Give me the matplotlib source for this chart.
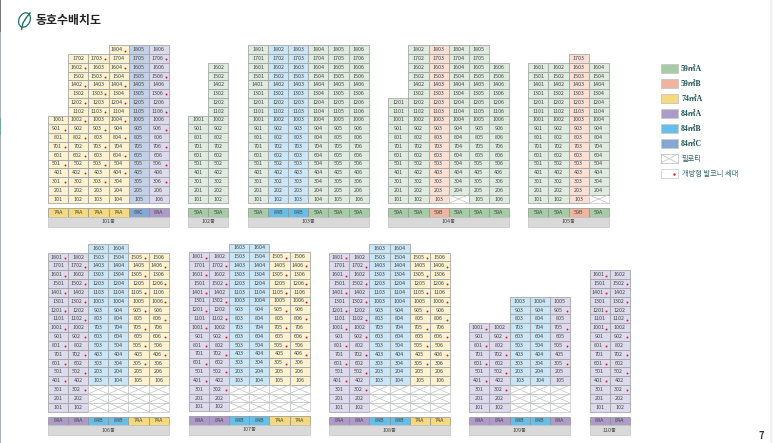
import matplotlib
matplotlib.use("Agg")
import matplotlib.pyplot as plt
from matplotlib.patches import Rectangle, Ellipse

plt.rcParams["font.family"] = ["Noto Sans CJK KR", "DejaVu Sans"]

# Unit plan colours: (cell, header)
type_colors = {
    "59A": ("#dfebdf", "#a5cca6"),
    "59B": ("#fadfd5", "#eeb49e"),
    "74A": ("#fcf2d0", "#f6d97c"),
    "84A": ("#dedaed", "#ae9ac9"),
    "84B": ("#c9e5f6", "#66bfe8"),
    "84C": ("#c3d1e8", "#85a7d6"),
}

# Each building: name, plan per column, rows per column, floor number offset per
# column, pilotis rows per column, units with an open balcony
names = ["101동", "102동", "103동", "104동", "105동", "106동", "107동", "108동", "109동", "110동"]

plans = [
    ["74A", "74A", "74A", "74A", "84C", "84A"],
    ["59A", "59A"],
    ["59A", "84B", "84B", "59A", "59A", "59A"],
    ["59A", "59A", "59B", "59A", "59A", "59A"],
    ["59A", "59A", "59B", "59A"],
    ["84A", "84A", "84B", "84B", "74A", "74A"],
    ["84A", "84A", "84B", "84B", "74A", "74A"],
    ["84A", "84A", "84B", "84B", "74A", "74A"],
    ["84A", "84A", "84B", "84B", "84A"],
    ["84A", "84A"],
]

rows = [
    [10, 17, 17, 18, 18, 18],
    [10, 16],
    [18, 18, 18, 18, 18, 18],
    [12, 18, 18, 18, 18, 16],
    [16, 16, 17, 16],
    [18, 18, 19, 19, 18, 18],
    [18, 18, 19, 19, 18, 18],
    [18, 18, 19, 19, 18, 18],
    [10, 10, 13, 13, 13],
    [16, 16],
]

floor_shift = [
    [0, 0, 0, 0, 0, 0],
    [0, 0],
    [0, 0, 0, 0, 0, 0],
    [0, 0, 0, 0, 0, 0],
    [0, 0, 0, 0],
    [0, 0, 3, 3, 3, 3],
    [0, 0, 3, 3, 3, 3],
    [0, 0, 3, 3, 3, 3],
    [0, 0, 3, 3, 3],
    [0, 0],
]

pilotis = [
    [0, 0, 0, 0, 0, 0],
    [0, 0],
    [0, 0, 0, 0, 0, 0],
    [0, 0, 0, 1, 0, 0],
    [0, 0, 0, 1],
    [0, 0, 3, 3, 3, 3],
    [0, 0, 3, 3, 3, 3],
    [0, 0, 3, 3, 3, 3],
    [0, 0, 3, 3, 3],
    [0, 0],
]

balcony_101 = [
    "1804", "1703", "1706", "1602", "1604", "1503", "1506", "1402", "1404", "1303", "1306",
    "1202", "1204", "1103", "1106", "1002", "1004", "901", "903", "906", "802", "804",
    "701", "703", "706", "602", "604", "501", "503", "506", "402", "404", "301", "303", "306",
]
balcony_106 = [
    "1801", "1702", "1601", "1502", "1401", "1302", "1201", "1102", "1001", "902", "801",
    "702", "601", "502", "401", "302", "1505", "1406", "1305", "1206", "1105", "1006",
    "905", "806", "705", "606", "505", "406", "305",
]
balcony_109 = [
    "1001", "902", "801", "702", "601", "502", "401", "302", "905", "705", "505", "305",
]
balcony_110 = [
    "1601", "1502", "1401", "1302", "1201", "1102", "1001", "902", "801", "702", "601",
    "502", "401", "302",
]
balconies = [
    balcony_101, [], [], [], [], balcony_106, balcony_106, balcony_106, balcony_109, balcony_110,
]

legend_plans = ["59A", "59B", "74A", "84A", "84B", "84C"]
legend_labels = ["59㎡A", "59㎡B", "74㎡A", "84㎡A", "84㎡B", "84㎡C"]

# Layout in image pixels
col_w = 20.1
row_h_top, row_h_bot = 8.78, 8.83
left_edges = [48.2, 188.2, 248.0, 388.3, 528.3, 48.0, 189.0, 329.2, 469.3, 589.5]
base_y = [203.4] * 5 + [411.6, 411.3, 411.6, 411.6, 411.6]

fig = plt.figure(figsize=(7.73, 4.43), dpi=100)
ax = fig.add_axes([0, 0, 1, 1])
ax.set_xlim(0, 773)
ax.set_ylim(443, 0)
ax.axis("off")

line_col = "#9ea1a0"
text_col = "#434645"

for b, name in enumerate(names):
    x0 = left_edges[b]
    y0 = base_y[b]
    h = row_h_top if b < 5 else row_h_bot
    ncols = len(plans[b])
    for c in range(ncols):
        cell, head = type_colors[plans[b][c]]
        x = x0 + c * col_w
        for r in range(1, rows[b][c] + 1):
            y = y0 - r * h
            floor = r - floor_shift[b][c]
            if r <= pilotis[b][c]:
                ax.add_patch(Rectangle((x, y), col_w, h, fc="white", ec="#c4c6c5", lw=0.5))
                ax.plot([x, x + col_w], [y, y + h], color="#c0c2c1", lw=0.5)
                ax.plot([x, x + col_w], [y + h, y], color="#c0c2c1", lw=0.5)
                continue
            ax.add_patch(Rectangle((x, y), col_w, h, fc=cell, ec=line_col, lw=0.55))
            unit = f"{floor}{c + 1:02d}"
            if unit in balconies[b]:
                ax.text(x + col_w / 2 - 1.5, y + h / 2, unit, ha="center", va="center",
                        fontsize=3.9, color=text_col)
                ax.scatter([x + col_w - 3.2], [y + h / 2 + 0.8], s=1.8, color="#e8102a",
                           linewidths=0, zorder=3)
            else:
                ax.text(x + col_w / 2, y + h / 2, unit, ha="center", va="center",
                        fontsize=3.9, color=text_col)
        # plan header below the tower
        ax.add_patch(Rectangle((x, y0 + 5), col_w, 8.6, fc=head, ec="#8f918f", lw=0.5))
        ax.text(x + col_w / 2, y0 + 9.3, plans[b][c], ha="center", va="center",
                fontsize=3.9, color=text_col)
    # building name strip
    ax.add_patch(Rectangle((x0, y0 + 13.6), ncols * col_w, 9.6, fc="#d9d9d9", ec="#c4c4c4", lw=0.5))
    ax.text(x0 + ncols * col_w / 2, y0 + 18.4, name, ha="center", va="center",
            fontsize=3.9, color=text_col)

# Legend
leg_y = 64.0
leg_step = 15.0
for i, (p, lab) in enumerate(zip(legend_plans, legend_labels)):
    y = leg_y + i * leg_step
    ax.add_patch(Rectangle((660.5, y), 17.5, 9.2, fc=type_colors[p][1], ec="#c9cbc9", lw=0.7))
    ax.text(681, y + 4.8, lab, ha="left", va="center", fontsize=5.6, color="#1d5256",
            family=["Liberation Serif", "Noto Sans CJK KR"], fontweight="bold")
y = leg_y + 6 * leg_step
ax.add_patch(Rectangle((660.5, y), 17.5, 9.2, fc="white", ec="#c4c6c5", lw=0.6))
ax.plot([660.5, 678], [y, y + 9.2], color="#c0c2c1", lw=0.5)
ax.plot([660.5, 678], [y + 9.2, y], color="#c0c2c1", lw=0.5)
ax.text(682, y + 4.6, "필로티", ha="left", va="center", fontsize=5.2, color="#33686c")
y = leg_y + 7 * leg_step
ax.add_patch(Rectangle((660.5, y), 17.5, 9.2, fc="white", ec="#d0d2d1", lw=0.6))
ax.scatter([674], [y + 5], s=3, color="#e8102a", linewidths=0, zorder=3)
ax.text(682, y + 4.6, "개방형 발코니 세대", ha="left", va="center", fontsize=5.2, color="#33686c")

# Title and logo
ax.add_patch(Ellipse((24.5, 20), 11, 15, angle=25, fc="none", ec="#1f6f6a", lw=0.9))
ax.plot([21.5, 23, 26, 30], [29.5, 23, 18, 13], color="#1f6f6a", lw=1.0)
ax.text(36, 20.5, "동호수배치도", ha="left", va="center", fontsize=8.6, fontweight="bold",
        color="#222222")

# Page number and screenshot edges
ax.text(761.5, 436, "7", ha="center", va="center", fontsize=6.8, fontweight="bold", color="#333333")
ax.add_patch(Rectangle((770, 0), 3, 443, fc="#f2f2f2", ec="none"))
ax.add_patch(Rectangle((0, 0), 1.2, 443, fc="#aab0b8", ec="none"))
ax.add_patch(Rectangle((0, 0), 1.2, 32, fc="#777777", ec="none"))
ax.add_patch(Rectangle((0, 118), 1.2, 17, fc="#6aa8a0", ec="none"))

fig.savefig("out.png", dpi=100)
